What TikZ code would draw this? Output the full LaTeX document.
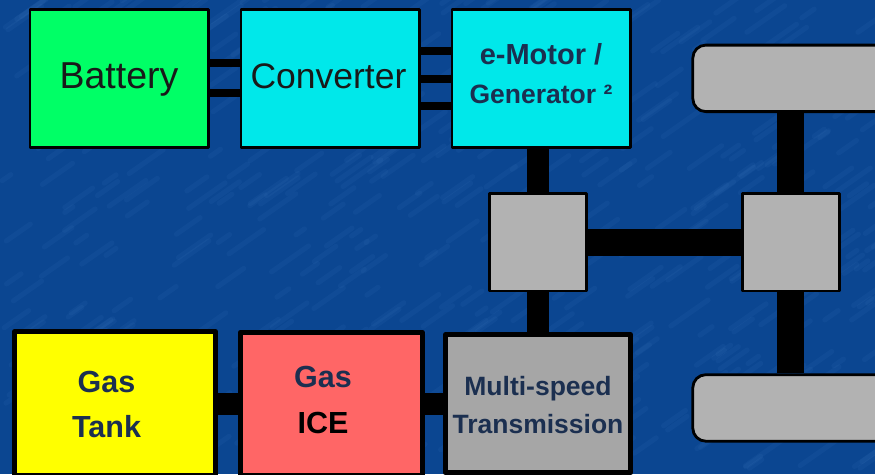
\documentclass[tikz,border=0pt]{standalone}
\usepackage{fontspec}
\setmainfont{Liberation Sans}
\usetikzlibrary{positioning}
\definecolor{slide}{HTML}{0B4691}
\definecolor{streakblue}{HTML}{4C86CC}
\definecolor{navytext}{HTML}{1B2F50}
\definecolor{battgreen}{RGB}{0,255,102}
\definecolor{motorcyan}{RGB}{0,232,234}
\definecolor{tankyellow}{RGB}{255,255,0}
\definecolor{icered}{RGB}{255,102,102}
\begin{document}
\begin{tikzpicture}[x=1pt, y=1pt, node distance=20pt,
    box/.style={rectangle, draw=black, line width=2.8pt, line join=round, minimum width=178.2pt, minimum height=138.2pt, inner sep=0pt, align=center, text=navytext},
    plain/.style={box, text=black!90, text height=26pt, text depth=6pt},
    thickbox/.style={box, line width=5pt, text height=68pt, font=\bfseries\fontsize{30.5}{45}\selectfont},
    grey/.style={box, fill=black!30, minimum width=97pt, minimum height=97.5pt},
    wheel/.style={box, fill=black!30, rounded corners=13pt, minimum width=196pt, minimum height=66.5pt},
    thin link/.style={draw=black, line width=8pt},
    mid link/.style={draw=black, line width=22pt},
    axle/.style={draw=black, line width=27pt},
    streak/.style={streakblue, line width=5pt, line cap=round, opacity=0.09}
]

\fill[slide] (0,0) rectangle (875,-474);
\clip (0,0) rectangle (875,-474);
\pgfmathsetseed{42}
\foreach \i in {1,...,520} {
    \pgfmathsetmacro{\sx}{rnd*875}
    \pgfmathsetmacro{\sy}{-rnd*474}
    \pgfmathsetmacro{\len}{8+rnd*30}
    \draw[streak] (\sx,\sy) -- ++(\len,0.7*\len);
}

\node[plain, fill=battgreen, font=\fontsize{37.5}{37.5}\selectfont] (battery) at (119,-78.5) {Battery};
\node[plain, fill=motorcyan, font=\fontsize{35.5}{35.5}\selectfont, right=30pt of battery] (converter) {Converter\hspace*{3pt}};
\node[box, fill=motorcyan, text depth=11pt, font=\bfseries\fontsize{29}{39}\selectfont, right=30pt of converter] (motor) {e-Motor /\\{\fontsize{26.5}{39}\selectfont Generator ²}};

\node[grey, below=43pt of motor, xshift=-3pt] (diffL) {};
\node[grey, right=153pt of diffL] (diffR) {};
\node[wheel, above=79pt of diffR] (wheelT) {};
\node[wheel, below=81pt of diffR] (wheelB) {};

\node[thickbox, fill=black!35, minimum width=185pt, minimum height=138pt, text height=59pt, font=\bfseries\fontsize{26.5}{38}\selectfont, below=40pt of diffL] (trans) {Multi-speed\\Transmission};
\node[thickbox, fill=icered, minimum width=182pt, minimum height=143pt, text height=60pt, font=\bfseries\fontsize{30.5}{46}\selectfont, left=18pt of trans] (ice) {Gas\hspace*{17pt}\\\textcolor{black}{ICE}\hspace*{17pt}};
\node[thickbox, fill=tankyellow, minimum width=201pt, minimum height=144pt, left=20pt of ice] (tank) {Gas\hspace*{17pt}\\Tank\hspace*{17pt}};

\draw[thin link] ([yshift=15.5pt]battery.east) -- ([yshift=15.5pt]converter.west);
\draw[thin link] ([yshift=-14pt]battery.east) -- ([yshift=-14pt]converter.west);
\draw[thin link] ([yshift=28pt]converter.east) -- ([yshift=28pt]motor.west);
\draw[thin link] (converter.east) -- (motor.west);
\draw[thin link] ([yshift=-27.5pt]converter.east) -- ([yshift=-27.5pt]motor.west);
\draw[mid link] (diffL.north) -- (diffL.north |- motor.south);
\draw[mid link] (diffL.south) -- (diffL.south |- trans.north);
\draw[axle] (diffL.east) -- (diffR.west);
\draw[axle] (diffR.north) -- (wheelT.south);
\draw[axle] (diffR.south) -- (wheelB.north);
\draw[mid link] (tank.east) -- (ice.west);
\draw[mid link] (ice.east) -- (trans.west);

\end{tikzpicture}
\end{document}
